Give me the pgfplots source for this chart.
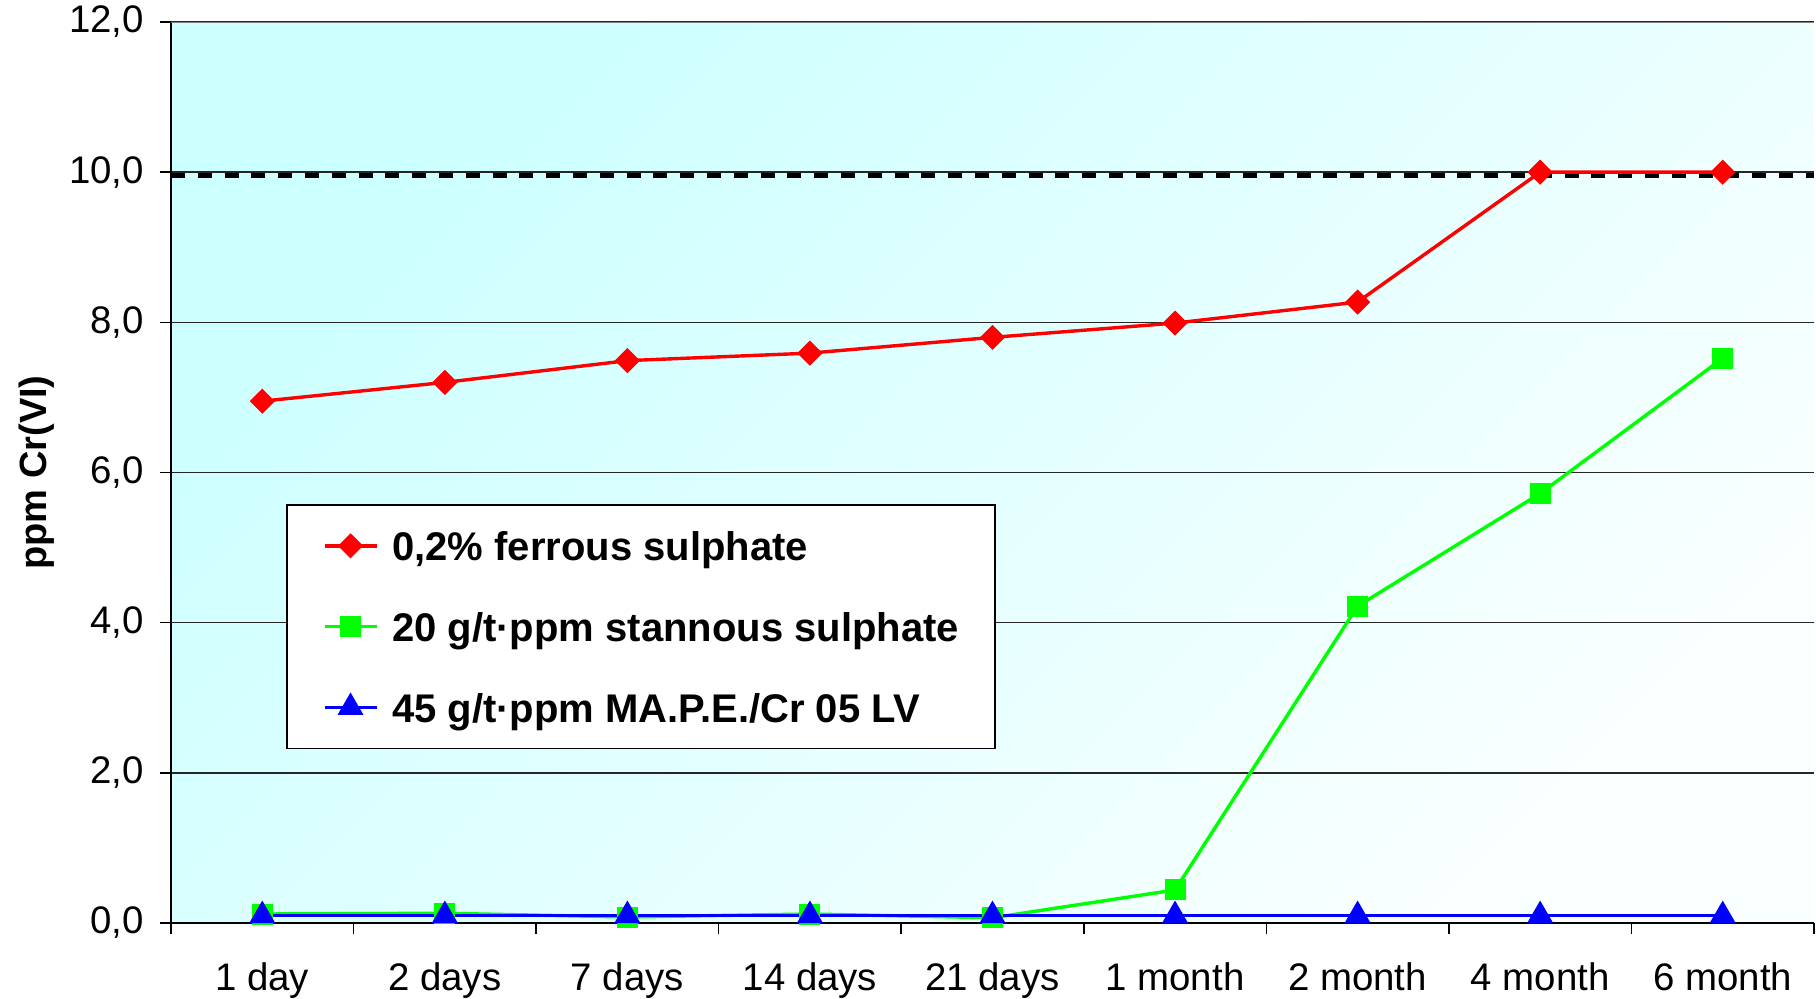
\documentclass[border=0pt]{standalone}
\usepackage{fontspec}
\setmainfont{Liberation Sans}
\usepackage{pgfplots}
\pgfplotsset{compat=1.18}

\definecolor{bgtop}{RGB}{204,255,255}
\definecolor{bgbot}{RGB}{250,255,255}

\begin{document}
\begin{tikzpicture}
\begin{axis}[
    scale only axis,
    width=410.75pt, height=225.25pt,
    xmin=-0.5, xmax=8.5,
    ymin=0, ymax=12,
    axis x line*=bottom, axis y line*=left,
    axis line style={black, line width=0.4pt},
    axis background/.style={top color=bgtop, bottom color=bgbot, shading angle=45},
    xtick={0,...,8},
    xticklabels={1 day, 2 days, 7 days, 14 days, 21 days, 1 month, 2 month, 4 month, 6 month},
    minor xtick={-0.5,0.5,...,8.5},
    major x tick style={draw=none},
    minor x tick style={black, line width=0.4pt},
    ytick={0,2,...,12},
    yticklabels={{0,0},{2,0},{4,0},{6,0},{8,0},{10,0},{12,0}},
    ytick style={black, line width=0.4pt},
    tick align=outside,
    major tick length=2.75pt, minor tick length=2.75pt,
    ymajorgrids,
    major grid style={black!85, line width=0.35pt},
    tick label style={font=\fontsize{9.6}{11}\selectfont},
    xticklabel style={yshift=-3.6pt},
    yticklabel style={xshift=-0.5pt},
    ylabel={ppm Cr(VI)},
    ylabel style={font=\fontsize{9.5}{11}\selectfont\bfseries, at={(axis description cs:-0.0816,0.5)}, anchor=center},
    legend style={at={(0.07,0.465)}, anchor=north west, draw=black, fill=white,
        inner xsep=9pt, inner ysep=6.5pt, row sep=12.7pt, column sep=3.5pt,
        font=\fontsize{10}{12}\selectfont\bfseries,
        nodes={inner sep=0pt, text height=7.5pt, text depth=0pt}},
    legend cell align=left,
    legend image code/.code={\draw[mark repeat=2, mark phase=2, #1] plot coordinates {(0pt,0pt) (6.5pt,0pt) (13pt,0pt)};},
]

% limit line
\addplot[black, line width=1.25pt, dash pattern=on 3.5pt off 3.2pt, forget plot]
coordinates {(-0.5,9.96) (8.5,9.96)};

%-- 0,2% ferrous sulphate
\addplot[red, line width=0.85pt, mark=square*, mark size=1.8pt, mark options={rotate=45}]
coordinates {
    (0,6.95) (1,7.20) (2,7.49) (3,7.59) (4,7.80) (5,7.99) (6,8.27) (7,10.00) (8,10.00)
};
\addlegendentry{0,2\% ferrous sulphate}

%-- 20 g/t-ppm stannous sulphate
\addplot[green, line width=0.85pt, mark=square*, mark size=2.2pt]
coordinates {
    (0,0.12) (1,0.13) (2,0.08) (3,0.12) (4,0.07) (5,0.44) (6,4.22) (7,5.72) (8,7.52)
};
\addlegendentry{20 g/t·ppm stannous sulphate}

%-- 45 g/t-ppm MA.P.E./Cr 05 LV
\addplot[blue, line width=0.85pt, mark=triangle*, mark size=2.9pt]
coordinates {
    (0,0.10) (1,0.10) (2,0.10) (3,0.10) (4,0.10) (5,0.10) (6,0.10) (7,0.10) (8,0.10)
};
\addlegendentry{45 g/t·ppm MA.P.E./Cr 05 LV}

\draw[gray, line width=0.5pt] (rel axis cs:0,1) -- (rel axis cs:1,1);
\end{axis}
\pgfresetboundingbox
\path (-42.75pt,-18.75pt) rectangle (411.25pt,230.75pt);
\end{tikzpicture}
\end{document}
